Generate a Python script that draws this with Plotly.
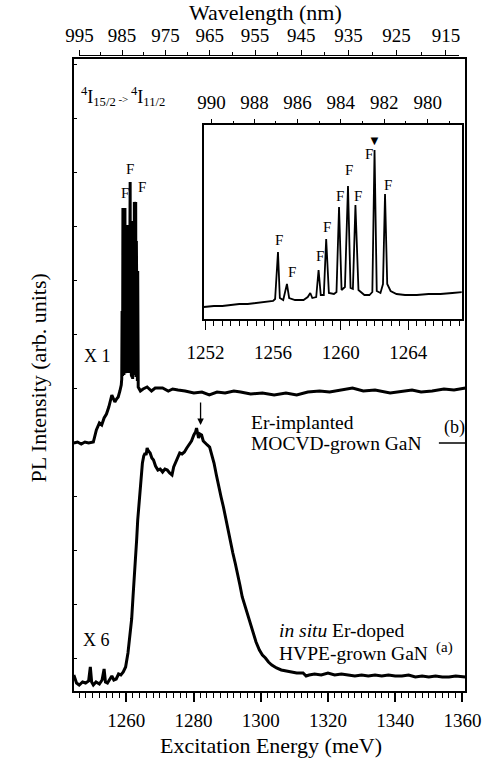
import plotly.graph_objects as go

HC = 1239841.98  # meV*nm, energy <-> wavelength conversion for the top axes

# ---------------- data ----------------
# (b) Er-implanted MOCVD-grown GaN, x1 (arb. units)
b_E = [1244.4, 1245.5, 1246.6, 1247.7, 1248.8, 1250.2, 1251.1, 1252.0, 1252.7, 1253.4, 1254.1, 1254.8,
       1255.7, 1256.6, 1257.1, 1257.6, 1258.1, 1258.5,
       1258.65, 1258.75, 1258.9, 1259.0, 1259.1, 1259.2, 1259.3, 1259.4, 1259.5, 1259.6, 1259.7, 1259.8,
       1259.9, 1260.0, 1260.1, 1260.2, 1260.3, 1260.4, 1260.5, 1260.6, 1260.7, 1260.8, 1260.9, 1261.0,
       1261.08, 1261.15, 1261.25, 1261.35, 1261.5, 1261.6, 1261.7, 1261.8, 1261.9, 1262.0, 1262.1, 1262.2,
       1262.3, 1262.4, 1262.5, 1262.6, 1262.7, 1262.8, 1262.9, 1263.0, 1263.1, 1263.2, 1263.3, 1263.4,
       1263.55, 1264.2, 1265.0, 1266.2, 1267.5, 1268.6, 1270.8, 1272.5, 1273.8, 1275.4, 1277.5, 1280.1,
       1282.5, 1284.7, 1287.0, 1289.4, 1292.0, 1294.0, 1297.0, 1300.5, 1304.0, 1307.5, 1310.7, 1314.0,
       1317.5, 1320.5, 1324.0, 1327.3, 1330.5, 1334.0, 1338.5, 1342.0, 1345.0, 1347.7, 1351.0, 1354.5,
       1357.5, 1360.9]
b_I = [248, 249, 247, 249, 248, 249, 261, 268, 266, 273, 277, 284,
       296, 289, 292, 294, 300, 306,
       312, 380, 315, 483, 318, 470, 316, 478, 318, 483, 320, 440,
       318, 462, 320, 466, 318, 458, 320, 464, 318, 455, 320, 500,
       330, 509, 322, 470, 316, 425, 314, 431, 312, 420, 314, 470,
       316, 489, 318, 485, 316, 489, 314, 450, 312, 436, 310, 420,
       304, 300, 302, 304, 300, 303, 303, 300, 302, 301, 300, 298,
       299, 296, 299, 298, 300, 299, 297, 298, 296, 298, 296, 299,
       300, 299, 301, 303, 300, 301, 298, 300, 301, 299, 300, 302,
       301, 303]

# (a) in situ Er-doped HVPE-grown GaN, x6 (arb. units)
a_E = [1244.4, 1245.2, 1246.0, 1247.0, 1247.9, 1248.8, 1249.3, 1249.7, 1250.2, 1251.0, 1252.0, 1252.8,
       1253.4, 1253.8, 1254.4, 1255.2, 1255.7, 1256.3, 1257.0, 1257.7, 1258.4, 1259.1, 1259.8, 1260.5,
       1261.1, 1261.6, 1262.0, 1262.4, 1262.7, 1263.1, 1263.4, 1263.8, 1264.2, 1264.5, 1264.8, 1265.2,
       1265.6, 1265.9, 1266.2, 1266.6, 1267.1, 1267.6, 1268.1, 1268.7, 1269.4, 1270.1, 1270.8, 1271.5,
       1272.2, 1272.9, 1273.6, 1274.1, 1274.6, 1275.0, 1275.5, 1275.9, 1276.6, 1277.3, 1278.0, 1278.7,
       1279.4, 1280.1, 1280.6, 1280.9, 1281.2, 1281.5, 1281.9, 1282.4, 1282.9, 1283.4, 1284.1, 1284.8,
       1285.5, 1286.1, 1286.8, 1287.5, 1288.2, 1288.9, 1289.6, 1290.3, 1291.0, 1291.7, 1292.4, 1293.1,
       1293.8, 1294.5, 1295.2, 1295.9, 1296.8, 1297.7, 1298.6, 1299.6, 1300.5, 1301.4, 1302.3, 1303.3,
       1304.7, 1306.1, 1307.5, 1308.8, 1310.7, 1312.6, 1313.5, 1314.4, 1316.0, 1318.0, 1320.0, 1322.0,
       1324.0, 1326.0, 1328.0, 1330.0, 1332.0, 1334.0, 1336.0, 1338.0, 1340.0, 1342.0, 1344.0, 1346.0,
       1348.0, 1350.0, 1352.0, 1354.0, 1356.0, 1358.0, 1360.9]
a_I = [16, 8, 6, 9, 8, 10, 24, 9, 6, 9, 7, 11,
       22, 9, 8, 12, 15, 11, 12, 17, 16, 19, 24, 38,
       54, 72, 94, 112, 131, 152, 171, 188, 204, 218, 228, 235,
       238, 236, 243, 240, 238, 233, 231, 225, 221, 222, 219, 222,
       221, 218, 216, 224, 228, 231, 235, 238, 237, 239, 243, 246,
       250, 256, 259, 263, 257, 253, 257, 256, 250, 248, 246, 244,
       236, 228, 216, 204, 194, 184, 172, 161, 150, 138, 128, 118,
       106, 94, 86, 78, 67, 58, 49, 41, 36, 33, 29, 26,
       23, 21, 20, 19, 18, 18, 15, 16, 17, 16, 18, 16,
       17, 16, 15, 16, 15, 16, 15, 16, 15, 15, 16, 14,
       15, 14, 15, 14, 14, 15, 14]

# inset: high-resolution spectrum of (b) (arb. units)
ins_E = [1251.9, 1252.5, 1253.0, 1253.5, 1254.0, 1254.5, 1255.0, 1255.5, 1256.0, 1256.12, 1256.29, 1256.4,
         1256.6, 1256.82, 1256.95, 1257.3, 1257.8, 1258.05, 1258.2, 1258.32, 1258.55, 1258.69, 1258.82,
         1259.0, 1259.14, 1259.3, 1259.6, 1259.75, 1259.9, 1260.05, 1260.25, 1260.43, 1260.58, 1260.72,
         1260.87, 1261.05, 1261.4, 1261.7, 1261.87, 1262.0, 1262.13, 1262.35, 1262.5, 1262.62, 1262.75,
         1262.95, 1263.3, 1263.8, 1264.5, 1265.2, 1265.9, 1266.6, 1267.2]
ins_I = [12, 13, 13, 14, 15, 15, 16, 17, 18, 20, 67, 21,
         19, 35, 21, 19, 19, 22, 26, 21, 22, 49, 24,
         24, 80, 26, 25, 27, 112, 29, 32, 133, 31, 30,
         114, 29, 24, 24, 27, 169, 28, 26, 35, 125, 35,
         28, 25, 24, 24, 25, 25, 26, 27]

# tick labels
bottom_ticks = [1260, 1280, 1300, 1320, 1340, 1360]
top_wl = [995, 985, 975, 965, 955, 945, 935, 925, 915]
top_wl_minor = [990, 980, 970, 960, 950, 940, 930, 920]
inset_bottom_ticks = [1252, 1256, 1260, 1264]
inset_top_wl = [990, 988, 986, 984, 982, 980]
inset_top_wl_minor = [989, 987, 985, 983, 981, 979]

# ---------------- layout helpers ----------------
W, H = 502, 758
def px(x):
    return x / W
def py(y):
    return 1 - y / H

FONT = "Liberation Serif, Times New Roman, serif"
BLACK = "#000000"

fig = go.Figure()
# empty traces so the secondary (top) axes are drawn (added first so they sit underneath)
fig.add_trace(go.Scatter(x=[], y=[], xaxis="x2", yaxis="y", hoverinfo="skip"))
fig.add_trace(go.Scatter(x=b_E, y=b_I, mode="lines", line=dict(color=BLACK, width=3),
                         xaxis="x", yaxis="y", hoverinfo="skip"))
fig.add_trace(go.Scatter(x=a_E, y=a_I, mode="lines", line=dict(color=BLACK, width=3),
                         xaxis="x", yaxis="y", hoverinfo="skip"))
fig.add_trace(go.Scatter(x=ins_E, y=ins_I, mode="lines", line=dict(color=BLACK, width=1.8),
                         xaxis="x3", yaxis="y3", hoverinfo="skip"))
fig.add_trace(go.Scatter(x=[], y=[], xaxis="x4", yaxis="y3", hoverinfo="skip"))

main_range = [1244.36, 1360.9]
inset_range = [1251.906, 1267.155]

tickfont = dict(family=FONT, size=19, color=BLACK)

fig.update_layout(
    width=W, height=H,
    margin=dict(l=0, r=0, t=0, b=0),
    paper_bgcolor="white", plot_bgcolor="rgba(0,0,0,0)",
    showlegend=False,
    font=dict(family=FONT, color=BLACK),
    xaxis=dict(domain=[px(60.7), px(480)], range=main_range, anchor="y",
               showline=True, linewidth=2, linecolor=BLACK, mirror=True,
               ticks="outside", tickvals=bottom_ticks, ticklen=9, tickwidth=1.5, tickcolor=BLACK,
               minor=dict(dtick=2, tick0=1260, ticks="outside", ticklen=5, tickwidth=1, tickcolor=BLACK),
               showgrid=False, zeroline=False, tickfont=tickfont, ticklabelstandoff=2),
    yaxis=dict(domain=[py(691), py(59)], range=[0, 632], anchor="x",
               showline=True, linewidth=2, linecolor=BLACK, mirror=True,
               ticks="inside", tick0=33, dtick=54, ticklen=3, tickwidth=1, tickcolor=BLACK,
               showticklabels=False, showgrid=False, zeroline=False),
    xaxis2=dict(domain=[px(66), px(473)],
                range=[main_range[0] + (66 - 60.7) / 3.6, main_range[0] + (473 - 60.7) / 3.6],
                anchor="free", position=py(55), side="top",
                showline=True, linewidth=1.2, linecolor=BLACK,
                ticks="outside", ticklen=5, tickwidth=1.2, tickcolor=BLACK,
                tickvals=[HC / w for w in top_wl], ticktext=[str(w) for w in top_wl],
                minor=dict(tickvals=[HC / w for w in top_wl_minor], ticks="outside", ticklen=3,
                           tickwidth=1, tickcolor=BLACK),
                showgrid=False, zeroline=False, tickfont=tickfont, ticklabelstandoff=0),
    xaxis3=dict(domain=[px(200), px(476)], range=inset_range, anchor="y3",
                showline=True, linewidth=1.5, linecolor=BLACK, mirror=True,
                ticks="outside", tickvals=inset_bottom_ticks, ticklen=9, tickwidth=1.3, tickcolor=BLACK,
                minor=dict(dtick=0.5, tick0=1252, ticks="outside", ticklen=5, tickwidth=1, tickcolor=BLACK),
                showgrid=False, zeroline=False, tickfont=tickfont, ticklabelstandoff=6),
    yaxis3=dict(domain=[py(319), py(125)], range=[0, 194], anchor="x3",
                showline=True, linewidth=1.5, linecolor=BLACK, mirror=True,
                ticks="", showticklabels=False, showgrid=False, zeroline=False),
    xaxis4=dict(overlaying="x3", anchor="y3", side="top", range=inset_range,
                ticks="outside", ticklen=5, tickwidth=1.2, tickcolor=BLACK,
                tickvals=[HC / w for w in inset_top_wl], ticktext=[str(w) for w in inset_top_wl],
                minor=dict(tickvals=[HC / w for w in inset_top_wl_minor], ticks="outside", ticklen=3,
                           tickwidth=1, tickcolor=BLACK),
                showline=False, showgrid=False, zeroline=False, tickfont=tickfont, ticklabelstandoff=2),
)

ann = []
def txt(x, y, s, size=17, xanchor="left", yanchor="middle", xref="paper", yref="paper", **kw):
    ann.append(dict(x=x, y=y, text=s, xref=xref, yref=yref, showarrow=False,
                    xanchor=xanchor, yanchor=yanchor,
                    font=dict(family=FONT, size=size, color=BLACK), **kw))

# axis titles
txt(px(266), py(12), "Wavelength (nm)", size=22, xanchor="center")
txt(px(272), py(745), "Excitation Energy (meV)", size=22, xanchor="center")
txt(px(22), py(378), "PL Intensity (arb. units)", size=22, xanchor="center", textangle=-90)

# transition label
txt(px(66), py(97), "<sup>4</sup>I<sub>15/2</sub><span style='font-size:11px'> -> </span><sup>4</sup>I<sub>11/2</sub>", size=18)

# multipliers
txt(px(70), py(356), "X 1", size=18)
txt(px(68), py(640), "X 6", size=18)

# sample labels
txt(px(248), py(422), "Er-implanted", size=19.5)
txt(px(248), py(443), "MOCVD-grown GaN", size=19.5)
txt(px(455), py(427), "(b)", size=18)
txt(px(278), py(630), "<i>in situ</i> Er-doped", size=19.5)
txt(px(278), py(653), "HVPE-grown GaN", size=19.5)
txt(px(446), py(647), "(a)", size=15)

# F labels, main plot
for (e, v) in [(1259.6, 498), (1261.2, 522), (1264.7, 504)]:
    txt(e, v, "F", size=15, xanchor="center", xref="x", yref="y")
# F labels, inset
for (e, v) in [(1256.33, 79), (1257.10, 47), (1258.76, 63), (1259.18, 92), (1259.96, 123),
               (1260.47, 149), (1261.02, 123), (1261.67, 165), (1262.77, 134)]:
    txt(e, v, "F", size=15, xanchor="center", xref="x3", yref="y3")

# inset marker triangle over the strongest line
txt(1262.0, 179, "\u25BC", size=13, xanchor="center", xref="x3", yref="y3")

# arrow over curve (a)
ann.append(dict(x=1282.1, y=266, xref="x", yref="y", ax=0, ay=-24, showarrow=True,
                arrowhead=2, arrowsize=1, arrowwidth=1.3, arrowcolor=BLACK, text=""))

fig.update_layout(annotations=ann)

# zero-level marker of curve (b) at the right edge
fig.add_shape(type="line", xref="x", yref="y", x0=1353.0, x1=1360.9, y0=248, y1=248,
              line=dict(color=BLACK, width=1.5))

fig.write_html("out.html")
